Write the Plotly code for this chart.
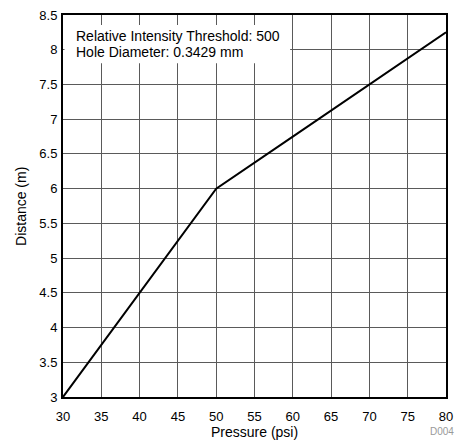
import plotly.graph_objects as go

pressure = [30, 40, 50, 60, 70, 80]
distance = [3.0, 4.5, 6.0, 6.75, 7.5, 8.25]
x_ticks = [30, 35, 40, 45, 50, 55, 60, 65, 70, 75, 80]
y_ticks = [3, 3.5, 4, 4.5, 5, 5.5, 6, 6.5, 7, 7.5, 8, 8.5]
y_labels = ["3", "3.5", "4", "4.5", "5", "5.5", "6", "6.5", "7", "7.5", "8", "8.5"]
note_lines = ["Relative Intensity Threshold: 500", "Hole Diameter: 0.3429 mm"]

font = "Liberation Sans, Arial, sans-serif"

fig = go.Figure()
fig.add_trace(go.Scatter(x=pressure, y=distance, mode="lines",
                         line=dict(color="black", width=2), showlegend=False))

fig.update_layout(
    width=467, height=443,
    margin=dict(l=63, r=21, t=15, b=46, autoexpand=False),
    paper_bgcolor="white", plot_bgcolor="white",
    font=dict(family=font, size=13, color="black"),
    xaxis=dict(range=[30, 80], tickvals=x_ticks, showgrid=True, automargin=False,
               gridcolor="#5a5a5a", gridwidth=1, showline=True, linecolor="black",
               linewidth=2, mirror=True, ticks="", zeroline=False, ticklabelstandoff=6,
               ticklabeloverflow="allow"),
    yaxis=dict(range=[3, 8.5], tickvals=y_ticks, ticktext=y_labels, showgrid=True, automargin=False,
               gridcolor="#5a5a5a", gridwidth=1, showline=True, linecolor="black",
               linewidth=2, mirror=True, ticks="", zeroline=False, ticklabelstandoff=1,
               ticklabeloverflow="allow"),
)

# axis titles
fig.add_annotation(xref="paper", yref="paper", x=0.5, y=-0.092, xanchor="center", yanchor="middle",
                   text="Pressure (psi)", showarrow=False, font=dict(size=14))
fig.add_annotation(xref="paper", yref="paper", x=-0.1097, y=0.5, xanchor="center", yanchor="middle",
                   text="Distance (m)", textangle=-90, showarrow=False, font=dict(size=14))

fig.add_shape(type="rect", xref="paper", yref="paper", x0=0.004, x1=0.593, y0=0.874, y1=0.974,
              fillcolor="white", line=dict(width=0), layer="above")
for txt, yy in zip(note_lines, [0.945, 0.903]):
    fig.add_annotation(xref="paper", yref="paper", x=0.031, y=yy, xanchor="left", yanchor="middle",
                       text=txt, showarrow=False, align="left",
                       font=dict(size=14, color="black"), borderpad=0)
fig.add_annotation(xref="paper", yref="paper", x=1.0235, y=-0.0916, xanchor="right", yanchor="middle",
                   text="D004", showarrow=False, font=dict(size=10, color="#999999"), borderpad=0)

fig.write_html("out.html", config={"displayModeBar": False},
               post_script="document.body.style.margin='0';document.body.style.overflow='hidden';")
